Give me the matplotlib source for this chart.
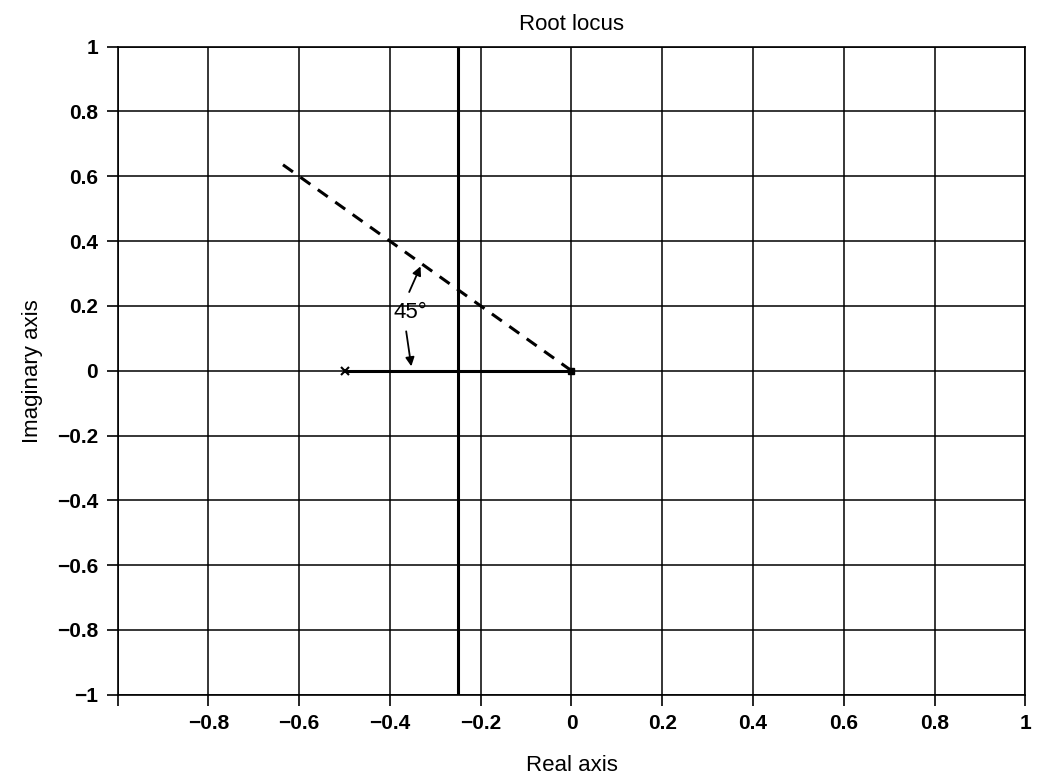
import numpy as np
import matplotlib.pyplot as plt

# root locus data
poles = [-0.5, 0.0]
breakaway = -0.25
zeta_line_x = [0.0, -0.64]
zeta_line_y = [0.0, 0.64]
xticks = [-1, -0.8, -0.6, -0.4, -0.2, 0, 0.2, 0.4, 0.6, 0.8, 1]
yticks = [-1, -0.8, -0.6, -0.4, -0.2, 0, 0.2, 0.4, 0.6, 0.8, 1]

plt.rcParams['font.family'] = ['Liberation Sans', 'DejaVu Sans']
plt.rcParams['axes.unicode_minus'] = True

fig = plt.figure(figsize=(10.4, 7.78), dpi=100)
ax = fig.add_axes([0.113, 0.107, 0.873, 0.833])

ax.set_xlim(-1, 1)
ax.set_ylim(-1, 1)
ax.set_xticks(xticks)
ax.set_yticks(yticks)
xlabels = ['' if v == -1 else ('%g' % v).replace('-', '\u2212') for v in xticks]
ylabels = [('%g' % v).replace('-', '\u2212') for v in yticks]
ax.set_xticklabels(xlabels, fontsize=15, fontweight='bold')
ax.set_yticklabels(ylabels, fontsize=15, fontweight='bold')
ax.grid(True, color='black', linewidth=1.1)
ax.tick_params(direction='out', length=8, width=1.2, colors='black', pad=6)
for s in ax.spines.values():
    s.set_linewidth(1.2)

# locus branches
ax.plot([poles[0], poles[1]], [0, 0], color='black', linewidth=2.2)
ax.axvline(breakaway, color='black', linewidth=2.2)

# poles
ax.plot(poles[0], 0, marker='x', color='black', markersize=6, mew=1.5)
ax.plot(poles[1], 0, marker='s', color='black', markersize=5)

# damping line
ax.plot(zeta_line_x, zeta_line_y, color='black', linewidth=2.2, linestyle=(0, (4, 3)))

# angle annotation
ax.text(-0.355, 0.18, '45\u00b0', fontsize=16, ha='center', va='center')
ax.annotate('', xy=(-0.33, 0.33), xytext=(-0.36, 0.235),
            arrowprops=dict(arrowstyle='-|>', color='black', lw=1.3, mutation_scale=13))
ax.annotate('', xy=(-0.352, 0.005), xytext=(-0.365, 0.13),
            arrowprops=dict(arrowstyle='-|>', color='black', lw=1.3, mutation_scale=13))

ax.set_title('Root locus', fontsize=16, pad=12)
ax.set_xlabel('Real axis', fontsize=16, labelpad=16)
ax.set_ylabel('Imaginary axis', fontsize=16, labelpad=10)

fig.savefig('out.png', dpi=100)
